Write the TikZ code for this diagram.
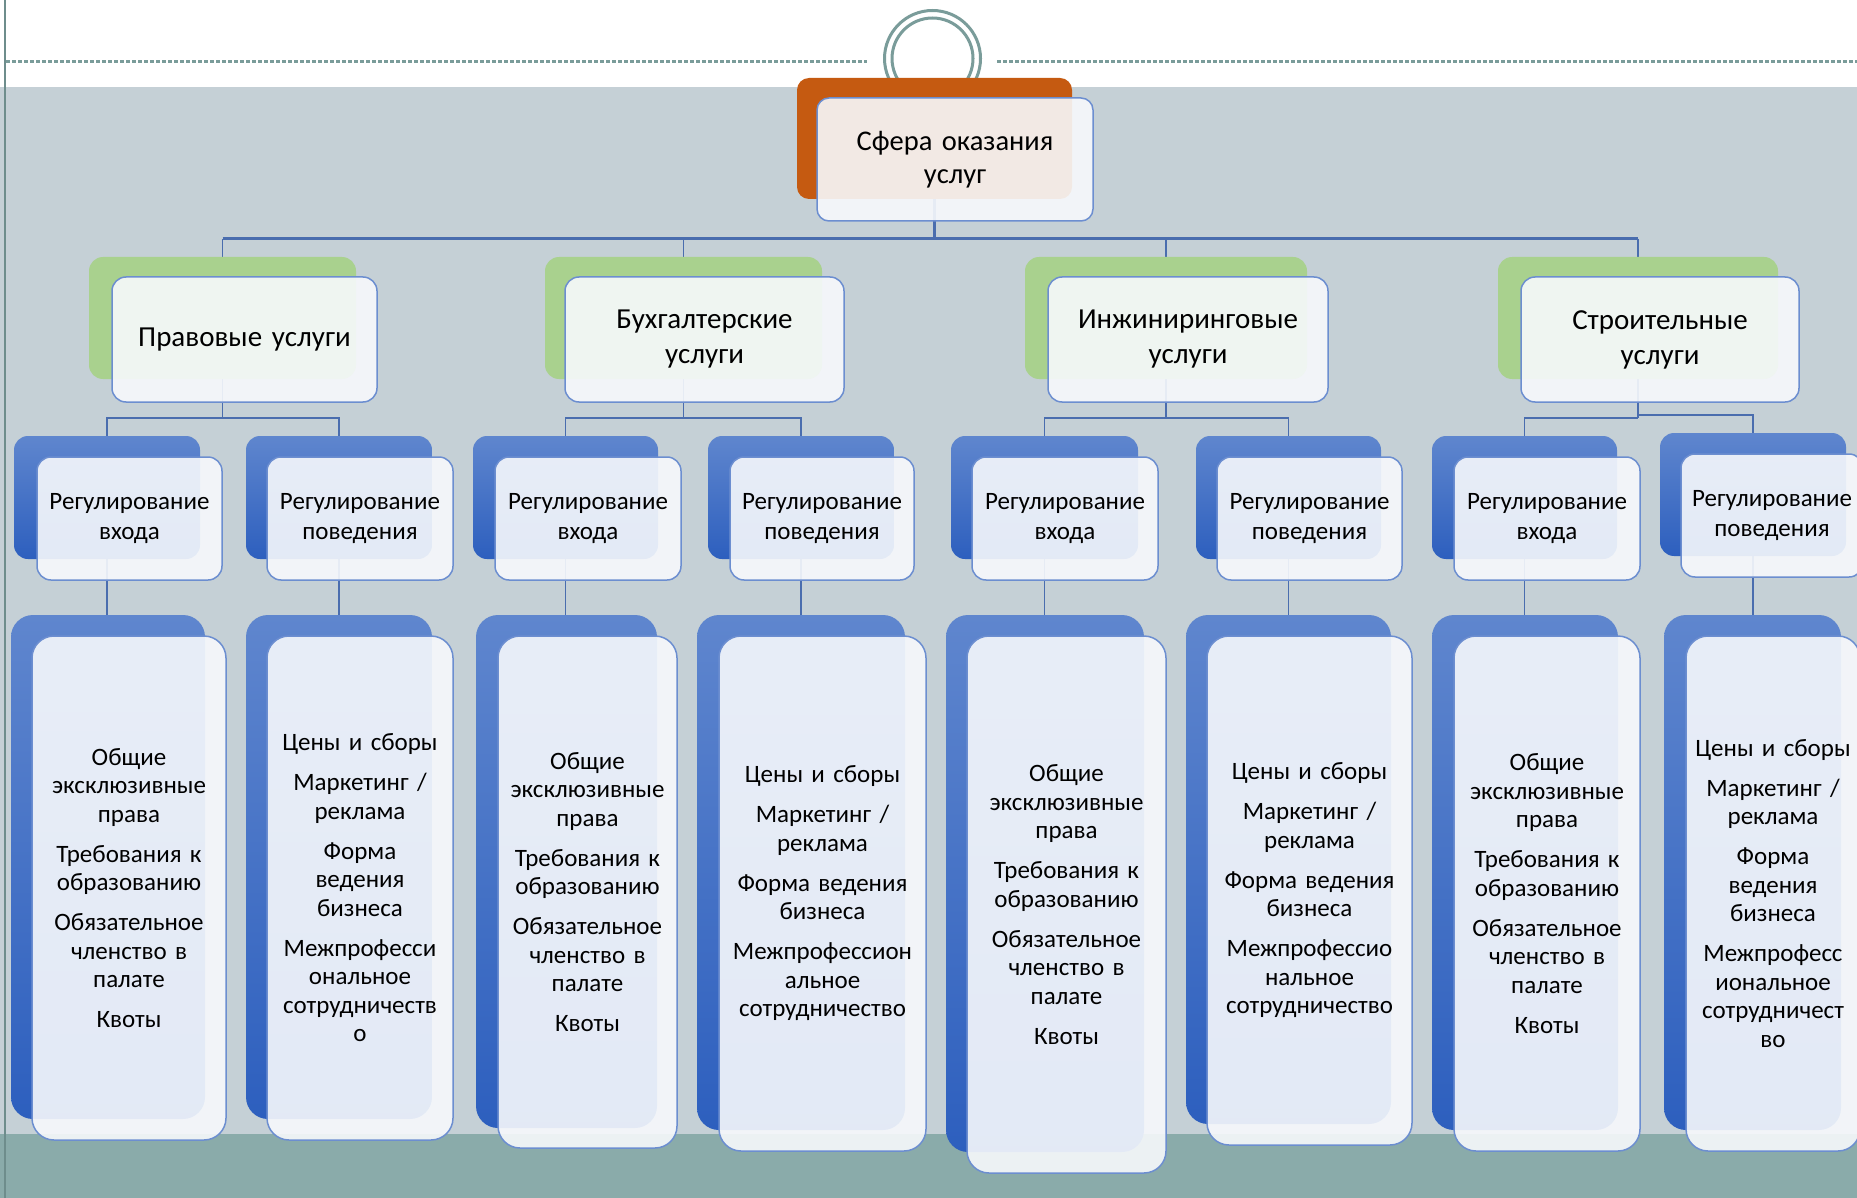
\documentclass[tikz,border=0pt]{standalone}
\usepackage{fontspec}
\setmainfont{Carlito}
\usetikzlibrary{backgrounds}
\pgfdeclarelayer{connlayer}
\pgfsetlayers{background,connlayer,main}
\definecolor{graybg}{HTML}{C5D0D6}
\definecolor{tealbg}{HTML}{8AABAA}
\definecolor{ringc}{HTML}{7A9C9A}
\definecolor{borderc}{HTML}{6E8D8C}
\definecolor{orangec}{HTML}{C55A11}
\definecolor{greenc}{HTML}{A9D18E}
\definecolor{bluetop}{HTML}{5F86CE}
\definecolor{bluebot}{HTML}{2D5FBE}
\definecolor{frontfill}{HTML}{F7F9FC}
\definecolor{frontline}{HTML}{6C8ED0}
\definecolor{connc}{HTML}{4A6DAE}
\newcommand\mkbox[6]{%
  \pgfmathsetmacro\myW{#5-#3}\pgfmathsetmacro\myH{#6-#4}%
  \node[#2, minimum width=\myW pt, minimum height=\myH pt, anchor=north west] (#1) at (#3,#4) {};}
\newcommand\mktext[7]{%
  \pgfmathsetmacro\myW{#5-#3}\pgfmathsetmacro\myH{#6-#4}\pgfmathsetmacro\myT{#5-#3-6}%
  \node[#2, minimum width=\myW pt, minimum height=\myH pt, text width=\myT pt, anchor=north west] (#1) at (#3,#4) {#7};}
\newcommand\pgap{\\[11.5pt]}
\newcommand\txA{Общие\\эксклюзивные\\права\pgap Требования к\\образованию\pgap Обязательное\\членство в\\палате\pgap Квоты}
\tikzset{
  conn/.style={draw=connc, line width=1.8pt},
  busline/.style={draw=connc, line width=3pt},
  basebox/.style={inner sep=0pt, outer sep=0pt},
  orangeback/.style={basebox, fill=orangec, rounded corners=12pt},
  greenback/.style={basebox, fill=greenc, rounded corners=14pt},
  blueback/.style={basebox, top color=bluetop, bottom color=bluebot, rounded corners=#1},
  blueback/.default=14pt,
  front/.style={basebox, draw=frontline, line width=1.5pt, fill=frontfill, fill opacity=0.9, text opacity=1, align=center, rounded corners=#1},
  front/.default=14pt,
  lonefront/.style={front=12pt, font=\fontsize{28.5}{33}\selectfont},
  ltwofront/.style={front=14pt, font=\fontsize{29}{35}\selectfont},
  lthreefront/.style={front=14pt, font=\fontsize{25}{30}\selectfont},
  lfourfront/.style={front=22pt, font=\fontsize{25}{28.5}\selectfont},
}
\begin{document}
\begin{tikzpicture}[x=1pt, y=-1pt]
\useasboundingbox (0,0) rectangle (1857,1198);
% background
\begin{pgfonlayer}{background}
\fill[white] (0,0) rectangle (1857,1198);
\fill[graybg] (0,87) rectangle (1857,1134);
\fill[tealbg] (0,1134) rectangle (1857,1198);
\draw[borderc, line width=2pt] (5,0) -- (5,1198);
\draw[ringc, line width=3pt, dash pattern=on 4pt off 2pt] (6,62) -- (867,62) (997,62) -- (1857,62);
\draw[ringc, line width=3pt] (932.5,58.5) circle[radius=48];
\draw[ringc, line width=3pt] (932.5,58.5) circle[radius=40.5];
\end{pgfonlayer}
% level 1
\mkbox{tb}{orangeback}{797}{78}{1072}{199}
\mktext{tf}{lonefront}{817}{98}{1093}{221}{Сфера оказания\\услуг}
% level 2
\mkbox{g1}{greenback}{89}{257}{356}{379}
\mkbox{g2}{greenback}{545}{257}{822}{379}
\mkbox{g3}{greenback}{1025}{257}{1307}{379}
\mkbox{g4}{greenback}{1498}{257}{1778}{379}
\mktext{f1}{ltwofront}{112}{277}{377}{402}{Правовые услуги}
\mktext{f2}{ltwofront}{565}{277}{844}{402}{Бухгалтерские\\услуги}
\mktext{f3}{ltwofront}{1048}{277}{1328}{402}{Инжиниринговые\\услуги}
\mktext{f4}{ltwofront}{1521}{277}{1799}{402}{Строительные\\услуги}
% level 3
\mkbox{b1}{blueback}{14}{436}{200}{559}
\mkbox{b2}{blueback}{246}{436}{432}{559}
\mkbox{b3}{blueback}{473}{436}{658}{559}
\mkbox{b4}{blueback}{708}{436}{894}{559}
\mkbox{b5}{blueback}{951}{436}{1138}{559}
\mkbox{b6}{blueback}{1196}{436}{1381}{559}
\mkbox{b7}{blueback}{1432}{436}{1617}{559}
\mkbox{b8}{blueback}{1660}{433}{1846}{556}
\mktext{c1}{lthreefront}{37}{457}{222}{580}{Регулирование\\входа}
\mktext{c2}{lthreefront}{267}{457}{453}{580}{Регулирование\\поведения}
\mktext{c3}{lthreefront}{495}{457}{681}{580}{Регулирование\\входа}
\mktext{c4}{lthreefront}{730}{457}{914}{580}{Регулирование\\поведения}
\mktext{c5}{lthreefront}{972}{457}{1158}{580}{Регулирование\\входа}
\mktext{c6}{lthreefront}{1217}{457}{1402}{580}{Регулирование\\поведения}
\mktext{c7}{lthreefront}{1454}{457}{1640}{580}{Регулирование\\входа}
\mktext{c8}{lthreefront}{1681}{454}{1863}{577}{Регулирование\\поведения}
% level 4
\mkbox{d1}{blueback=22pt}{11}{615}{205}{1119}
\mkbox{d2}{blueback=22pt}{246}{615}{432}{1119}
\mkbox{d3}{blueback=22pt}{476}{615}{657}{1128}
\mkbox{d4}{blueback=22pt}{697}{615}{905}{1130}
\mkbox{d5}{blueback=22pt}{946}{615}{1144}{1152}
\mkbox{d6}{blueback=22pt}{1186}{615}{1391}{1124}
\mkbox{d7}{blueback=22pt}{1432}{615}{1618}{1130}
\mkbox{d8}{blueback=22pt}{1664}{615}{1841}{1130}
\mktext{e1}{lfourfront}{32}{636}{226}{1140}{\txA}
\mktext{e2}{lfourfront}{267}{636}{453}{1140}{Цены и сборы\pgap Маркетинг /\\реклама\pgap Форма\\ведения\\бизнеса\pgap Межпрофесси\\ональное\\сотрудничеств\\о}
\mktext{e3}{lfourfront}{498}{636}{677}{1148}{\txA}
\mktext{e4}{lfourfront}{719}{636}{926}{1151}{Цены и сборы\pgap Маркетинг /\\реклама\pgap Форма ведения\\бизнеса\pgap Межпрофессион\\альное\\сотрудничество}
\mktext{e5}{lfourfront}{967}{636}{1166}{1173}{\txA}
\mktext{e6}{lfourfront}{1207}{636}{1412}{1145}{Цены и сборы\pgap Маркетинг /\\реклама\pgap Форма ведения\\бизнеса\pgap Межпрофессио\\нальное\\сотрудничество}
\mktext{e7}{lfourfront}{1454}{636}{1640}{1151}{\txA}
\mktext{e8}{lfourfront}{1686}{636}{1860}{1151}{Цены и сборы\pgap Маркетинг /\\реклама\pgap Форма\\ведения\\бизнеса\pgap Межпрофесс\\иональное\\сотрудничест\\во}
% connectors
\begin{pgfonlayer}{connlayer}
\coordinate (bus) at (0,239);
\coordinate (rowa) at (0,418);
\coordinate (rowb) at (0,415);
\draw[busline] (tb.south) -- (tb.south |- bus);
\draw[busline] (g1.north |- bus) -- (g4.north |- bus);
\foreach \g in {g1,g2,g3,g4} {\draw[conn] (\g.north |- bus) -- (\g.north);}
\draw[conn] (g1.south) -- (g1.south |- rowa);
\draw[conn] (b1.north) -- (b1.north |- rowa) -- (b2.north |- rowa) -- (b2.north);
\draw[conn] (g2.south) -- (g2.south |- rowa);
\draw[conn] (b3.north) -- (b3.north |- rowa) -- (b4.north |- rowa) -- (b4.north);
\draw[conn] (g3.south) -- (g3.south |- rowa);
\draw[conn] (b5.north) -- (b5.north |- rowa) -- (b6.north |- rowa) -- (b6.north);
\draw[conn] (g4.south) -- (g4.south |- rowa);
\draw[conn] (b7.north) -- (b7.north |- rowa) -- (g4.south |- rowa);
\draw[conn] (g4.south |- rowb) -- (b8.north |- rowb) -- (b8.north);
\foreach \i in {1,...,8} {\draw[conn] (b\i.south) -- (b\i.south |- d\i.north);}
\end{pgfonlayer}
\end{tikzpicture}
\end{document}
